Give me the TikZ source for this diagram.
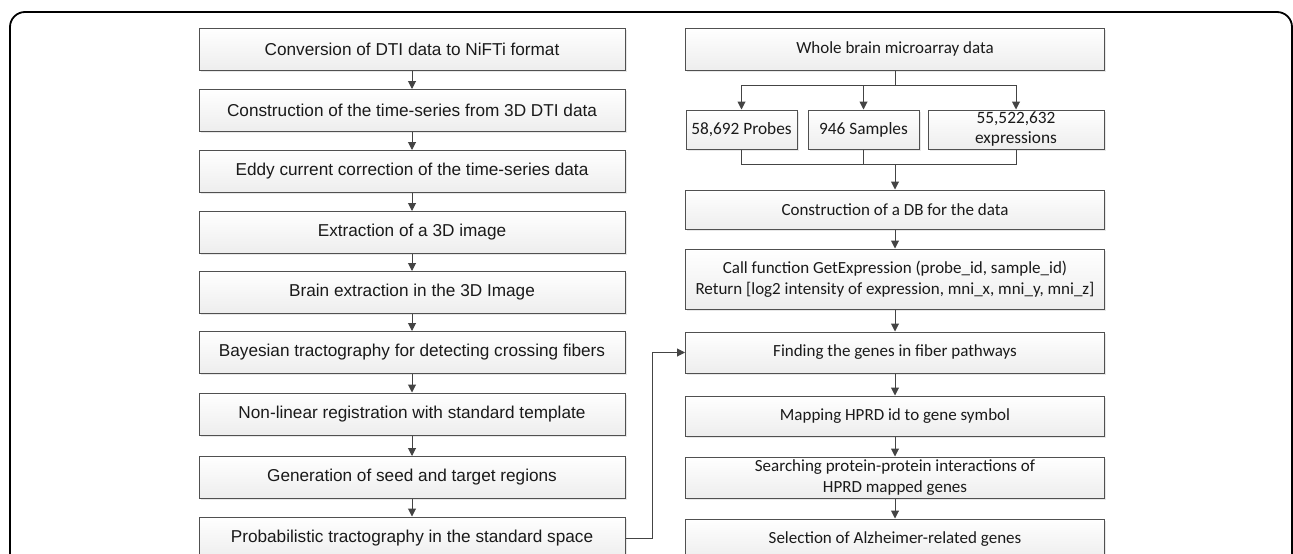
\documentclass[tikz,border=0pt]{standalone}
\usepackage{fontspec}
\setmainfont{Liberation Sans}
\newfontfamily\calibrifont{Carlito}
\usetikzlibrary{arrows.meta,shadows,positioning}
\definecolor{boxline}{HTML}{505050}
\definecolor{boxtext}{HTML}{1A1A1A}
\tikzset{
  stepbox/.style={draw=boxline, line width=1pt, top color=white, bottom color=gray!14,
    drop shadow={shadow xshift=1.5pt, shadow yshift=-1.5pt, fill=gray!35},
    text=boxtext, inner sep=2pt, align=center},
  leftbox/.style={stepbox, minimum width=426pt, minimum height=42pt,
    font=\fontsize{17.2}{20}\selectfont},
  rightbox/.style={stepbox, minimum width=419pt, font=\calibrifont\fontsize{17}{21}\selectfont},
  smallbox/.style={stepbox, minimum height=39pt, font=\calibrifont\fontsize{17.3}{20}\selectfont},
  link/.style={draw=boxline!85!black, line width=1pt},
  arr/.style={link, -{Triangle[length=8pt,width=8pt]}}
}
\begin{document}
\begin{tikzpicture}[x=1pt,y=-1pt]
        \useasboundingbox (0,0) rectangle (1293,554);
        \clip (0,0) rectangle (1293,554);
        % Outer frame
        \draw[line width=1.8pt, rounded corners=15pt] (10,12) rectangle (1292,640);
        % Left column: DTI processing
        \node[leftbox] (nifti) at (412,49) {Conversion of DTI data to NiFTi format};
        \node[leftbox] (tseries) at (412,110.5) {Construction of the time-series from 3D DTI data};
        \node[leftbox] (eddy) at (412,171.5) {Eddy current correction of the time-series data};
        \node[leftbox] (extract) at (412,232.5) {Extraction of a 3D image};
        \node[leftbox] (brain) at (412,292.5) {Brain extraction in the 3D Image};
        \node[leftbox] (bayes) at (412,352.5) {Bayesian tractography for detecting crossing fibers};
        \node[leftbox] (reg) at (412,414) {Non-linear registration with standard template};
        \node[leftbox] (seed) at (412,477.5) {Generation of seed and target regions};
        \node[leftbox] (prob) at (412,538) {Probabilistic tractography in the standard space};
        % Right column: microarray data
        \node[rightbox, minimum height=42pt] (whole) at (895,49) {Whole brain microarray data};
        \node[smallbox, minimum width=111pt] (probes) at (741.5,129.5) {58,692 Probes};
        \node[smallbox, minimum width=111pt] (samples) at (863.5,129.5) {946 Samples};
        \node[smallbox, minimum width=176pt] (expr) at (1016,129.5) {55,522,632\\expressions};
        \node[rightbox, minimum height=39pt] (db) at (895,209.5) {Construction of a DB for the data};
        \node[rightbox, minimum height=60pt] (call) at (895,279)
          {Call function GetExpression (probe\_id, sample\_id)\\Return [log2 intensity of expression, mni\_x, mni\_y, mni\_z]};
        \node[rightbox, minimum height=41pt] (genes) at (895,352.5) {Finding the genes in fiber pathways};
        \node[rightbox, minimum height=40pt] (hprd) at (895,416) {Mapping HPRD id to gene symbol};
        \node[rightbox, minimum height=41pt] (ppi) at (895,477.5) {Searching protein-protein interactions of\\HPRD mapped genes};
        \node[rightbox, minimum height=41pt] (alz) at (895,539.5) {Selection of Alzheimer-related genes};
        % Arrows in the left column
        \foreach \a/\b in {nifti/tseries, tseries/eddy, eddy/extract, extract/brain,
                           brain/bayes, bayes/reg, reg/seed, seed/prob}
          \draw[arr] (\a) -- (\b);
        % Split and merge of the microarray data
        \coordinate (split) at (895,85);
        \coordinate (merge) at (895,164);
        \draw[link] (whole) -- (split);
        \draw[arr] (split) -| (probes);
        \draw[arr] (split) -| (samples);
        \draw[arr] (split) -| (expr);
        \draw[link] (probes) |- (merge);
        \draw[link] (expr) |- (merge);
        \draw[link] (samples) -- (samples.south |- merge);
        \draw[arr] (merge) -- (db);
        % Arrows in the right column
        \foreach \a/\b in {db/call, call/genes, genes/hprd, hprd/ppi, ppi/alz}
          \draw[arr] (\a) -- (\b);
        % Tractography into the gene search
        \draw[arr] (prob.east) -- ++(27,0) |- (genes.west);
\end{tikzpicture}
\end{document}
